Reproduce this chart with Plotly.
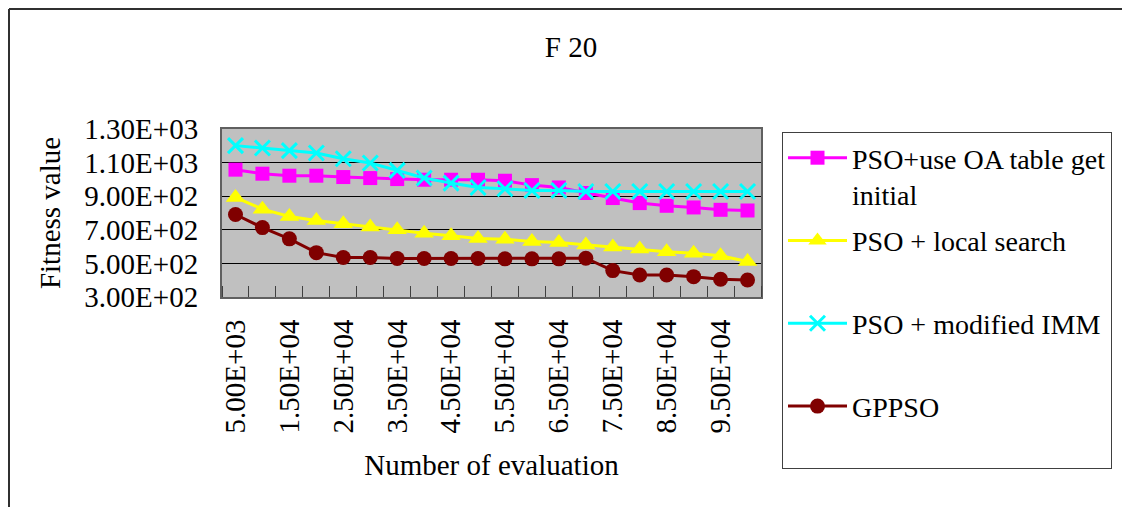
import plotly.graph_objects as go

evaluations = [5000 * (i + 1) for i in range(20)]
series_names = ["PSO+use OA table get<br>initial", "PSO + local search<br> ", "PSO + modified IMM<br> ", "GPPSO<br> "]
pso_oa = [1058, 1034, 1022, 1022, 1014, 1008, 1002, 998, 998, 998, 992, 966, 952, 919, 889, 859, 843, 833, 819, 815]
pso_ls = [893, 823, 779, 755, 736, 716, 700, 680, 664, 648, 644, 630, 624, 610, 597, 585, 570, 561, 545, 511]
pso_imm = [1201, 1187, 1171, 1157, 1123, 1098, 1054, 1008, 978, 952, 944, 934, 934, 928, 928, 928, 928, 928, 928, 928]
gppso = [791, 713, 646, 564, 535, 535, 529, 529, 529, 529, 527, 527, 527, 531, 457, 431, 431, 421, 406, 401]
x_tick_vals = [5000 + 10000 * i for i in range(10)]
y_tick_vals = [300, 500, 700, 900, 1100, 1300]

colors = ["#FF00FF", "#FFFF00", "#00FFFF", "#800000"]
symbols = ["square", "triangle-up", "x-thin", "circle"]
sizes = [14, 17, 15, 15]
values = [pso_oa, pso_ls, pso_imm, gppso]

FONT = "Liberation Serif"
OFF = 8  # page body margin

fig = go.Figure()
for i, (name, vals) in enumerate(zip(series_names, values)):
    marker = dict(symbol=symbols[i], size=sizes[i], color=colors[i])
    if symbols[i] == "x-thin":
        marker = dict(symbol="x-thin", size=sizes[i], color=colors[i], line=dict(color=colors[i], width=3))
    fig.add_trace(go.Scatter(
        x=evaluations, y=vals, name=name, mode="lines+markers",
        line=dict(color=colors[i], width=3), marker=marker,
        legendgroup=f"g{i}",
    ))

# plot area in reference page coordinates
L, T, W, H = 222, 129, 539, 168
FW, FH = 1130, 507
def px(x):
    return (x - L) / W
def py(y):
    return (T + H - y) / H

fig.update_layout(
    width=FW, height=FH,
    margin=dict(l=L - OFF, r=FW - (L - OFF) - W, t=T - OFF, b=FH - (T - OFF) - H, autoexpand=False),
    paper_bgcolor="white", plot_bgcolor="#C0C0C0",
    font=dict(family=FONT, size=29, color="black"),
    title=dict(text="F 20", x=(571 - OFF) / FW, xanchor="center", y=1 - 39 / FH, yanchor="middle",
               font=dict(family=FONT, size=29, color="black")),
    showlegend=True,
    legend=dict(x=px(782), y=py(132), xanchor="left", yanchor="top",
                bordercolor="#404040", borderwidth=1, bgcolor="white",
                font=dict(family=FONT, size=28, color="black"),
                tracegroupgap=7, valign="top", itemwidth=59, maxheight=450,
                entrywidth=270, entrywidthmode="pixels"),
    shapes=[
        dict(type="line", xref="paper", yref="paper", x0=px(9), x1=px(9), y0=py(9), y1=py(530),
             line=dict(color="#303030", width=2)),
        dict(type="line", xref="paper", yref="paper", x0=px(9), x1=px(1150), y0=py(9), y1=py(9),
             line=dict(color="#303030", width=2)),
    ],
)
fig.update_xaxes(
    range=[2500, 102500], tickmode="array", tickvals=x_tick_vals,
    ticktext=[f"{v:.2E}" for v in x_tick_vals], tickangle=-90,
    ticks="", showgrid=False, zeroline=False,
    showline=True, linecolor="#606060", linewidth=2, mirror=True,
    tickfont=dict(family=FONT, size=29, color="black"), ticklabelstandoff=9,
    minor=dict(tickmode="linear", tick0=2500, dtick=5000, ticks="inside", ticklen=11,
               tickcolor="#404040", tickwidth=1, showgrid=False),
    title=dict(text="Number of evaluation", font=dict(family=FONT, size=29, color="black"), standoff=22),
)
fig.update_yaxes(
    range=[300, 1300], tickmode="array", tickvals=y_tick_vals,
    ticktext=[f"{v:.2E}" for v in y_tick_vals],
    showgrid=True, gridcolor="black", gridwidth=1, zeroline=False,
    showline=True, linecolor="#606060", linewidth=2, mirror=True,
    ticks="", tickfont=dict(family=FONT, size=29, color="black"), ticklabelstandoff=16,
    title=dict(text="Fitness value", font=dict(family=FONT, size=29, color="black"), standoff=15),
)

fig.write_html("out.html")
